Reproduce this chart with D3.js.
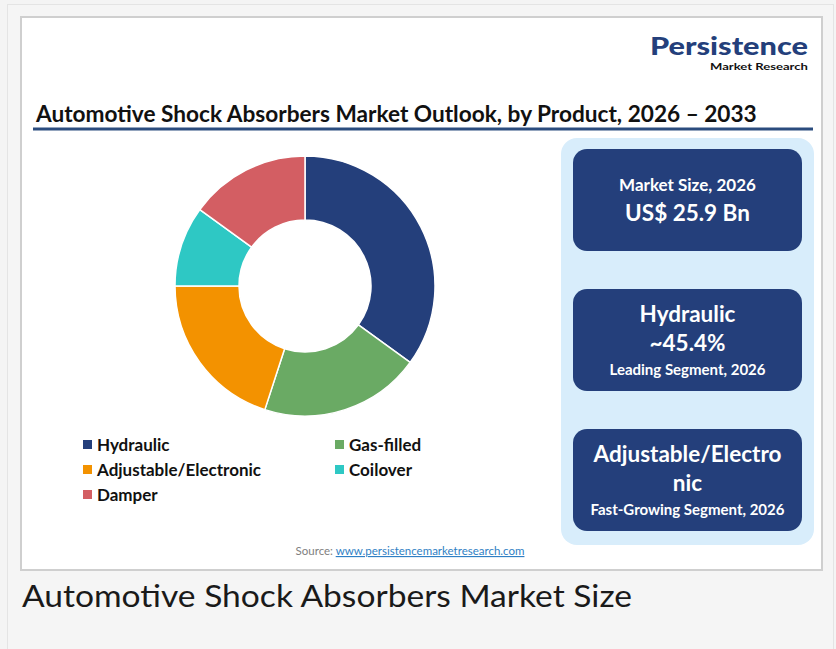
<!DOCTYPE html>
<html>
<head>
<meta charset="utf-8">
<script src="https://cdn.jsdelivr.net/npm/d3@7"></script>
<style>
  body { margin: 0; background: #f4f4f4; }
  svg { display: block; }
  text { font-family: Lato, "Open Sans", sans-serif; }
</style>
</head>
<body>
<div id="graph"></div>
<script>
// chart values
var products = ["Hydraulic", "Gas-filled", "Adjustable/Electronic", "Coilover", "Damper"];
var shares = [35, 20, 20, 10, 15];
var productColors = ["#243f7b", "#6aaa64", "#f39200", "#2ec8c4", "#d35e63"];

var titleText = "Automotive Shock Absorbers Market Outlook, by Product, 2026 \u2013 2033";
var captionText = "Automotive Shock Absorbers Market Size";
var sourceLabel = "Source: ";
var sourceLink = "www.persistencemarketresearch.com";

// highlight cards: [text, kind]
var cardLines = [
  [["Market Size, 2026", "sub"], ["US$ 25.9 Bn", "big"]],
  [["Hydraulic", "big"], ["~45.4%", "big"], ["Leading Segment, 2026", "small"]],
  [["Adjustable/Electro", "big"], ["nic", "big"], ["Fast-Growing Segment, 2026", "small"]]
];

var width = 836, height = 649;
var svg = d3.select("#graph").append("svg").attr("width", width).attr("height", height);

// page frame
svg.append("rect").attr("x", 7.5).attr("y", 4.5).attr("width", 826).attr("height", 660)
  .attr("fill", "#f5f5f5").attr("stroke", "#e4e4e4");
svg.append("rect").attr("x", 21).attr("y", 17).attr("width", 801).attr("height", 553)
  .attr("fill", "#fff").attr("stroke", "#cfcfcf").attr("stroke-width", 2);

// logo
svg.append("text").attr("x", 808).attr("y", 55).attr("text-anchor", "end")
  .attr("font-family", "'Liberation Sans', Arial, sans-serif").attr("font-weight", 900)
  .attr("font-size", 25).attr("fill", "#243f7b")
  .attr("textLength", 158).attr("lengthAdjust", "spacingAndGlyphs")
  .text("Persistence");
svg.append("text").attr("x", 808).attr("y", 70).attr("text-anchor", "end")
  .attr("font-family", "'Liberation Sans', Arial, sans-serif").attr("font-weight", 700)
  .attr("font-size", 10).attr("fill", "#111")
  .attr("textLength", 98).attr("lengthAdjust", "spacingAndGlyphs")
  .text("Market Research");

// title
var title = svg.append("text").attr("x", 36).attr("y", 122)
  .attr("font-weight", 700).attr("font-size", 21).attr("fill", "#111").text(titleText);
fitWidth(title, 721);
svg.append("line").attr("x1", 33).attr("x2", 813).attr("y1", 129).attr("y2", 129)
  .attr("stroke", "#2b4c7e").attr("stroke-width", 3);

// donut
var color = d3.scaleOrdinal().domain(products).range(productColors);
var pie = d3.pie().sort(null).value(function(d, i) { return shares[i]; });
var arc = d3.arc().innerRadius(66).outerRadius(130);
var chartLayer = svg.append("g").attr("transform", "translate(" + [305, 286] + ")");
chartLayer.selectAll(".slice").data(pie(products)).enter().append("path")
  .classed("slice", true)
  .attr("d", arc)
  .attr("fill", function(d) { return color(d.data); })
  .attr("stroke", "#fff").attr("stroke-width", 1.5);

// legend
var legendX = d3.scalePoint().domain([0, 1]).range([83, 335]);
var legendY = d3.scalePoint().domain([0, 1, 2]).range([445, 495]);
var legend = svg.append("g").selectAll(".item").data(products).enter().append("g")
  .classed("item", true)
  .attr("transform", function(d, i) {
    return "translate(" + [legendX(i % 2), legendY(Math.floor(i / 2))] + ")";
  });
legend.append("rect").attr("x", 0).attr("y", -5).attr("width", 9).attr("height", 9)
  .attr("fill", function(d) { return color(d); });
legend.append("text").attr("x", 14).attr("y", 6)
  .attr("font-weight", 700).attr("font-size", 17).attr("fill", "#111")
  .text(function(d) { return d; });

// right panel
svg.append("rect").attr("x", 561).attr("y", 138).attr("width", 253).attr("height", 407)
  .attr("rx", 16).attr("fill", "#d8edfb");
var cardY = d3.scalePoint().domain([0, 1, 2]).range([149, 429]);
var cardH = 102, cardX = 573, cardW = 229;
var kinds = {
  sub:   { size: 17, gap: 29 },
  big:   { size: 22.5, gap: 29.5 },
  small: { size: 15, gap: 23.5 }
};
cardLines.forEach(function(lines, ci) {
  var top = cardY(ci);
  svg.append("rect").attr("x", cardX).attr("y", top).attr("width", cardW).attr("height", cardH)
    .attr("rx", 14).attr("fill", "#243f7b");
  var base = [0];
  for (var k = 1; k < lines.length; k++) base.push(base[k - 1] + kinds[lines[k][1]].gap);
  var cap = kinds[lines[0][1]].size * 0.72;
  var blockH = cap + base[base.length - 1];
  var y0 = top + (cardH - blockH) / 2 + cap;
  lines.forEach(function(l, k) {
    svg.append("text").attr("x", cardX + cardW / 2).attr("y", y0 + base[k])
      .attr("text-anchor", "middle").attr("font-weight", 700)
      .attr("font-size", kinds[l[1]].size).attr("fill", "#fff").text(l[0]);
  });
});

// source
var src = svg.append("text").attr("x", 410).attr("y", 555).attr("text-anchor", "middle")
  .attr("font-size", 11.5);
src.append("tspan").attr("fill", "#808080").text(sourceLabel);
src.append("tspan").attr("fill", "#2f7fc4").attr("text-decoration", "underline").text(sourceLink);

// caption under the image
svg.append("text").attr("x", 22).attr("y", 607)
  .attr("font-family", "'Open Sans', sans-serif").attr("font-size", 31).attr("fill", "#1a1a1a")
  .attr("textLength", 610).attr("lengthAdjust", "spacingAndGlyphs")
  .text(captionText);

function fitWidth(sel, w) {
  var len = sel.node().getComputedTextLength();
  var fs = +sel.attr("font-size");
  sel.attr("font-size", fs * w / len);
}
</script>
</body>
</html>
